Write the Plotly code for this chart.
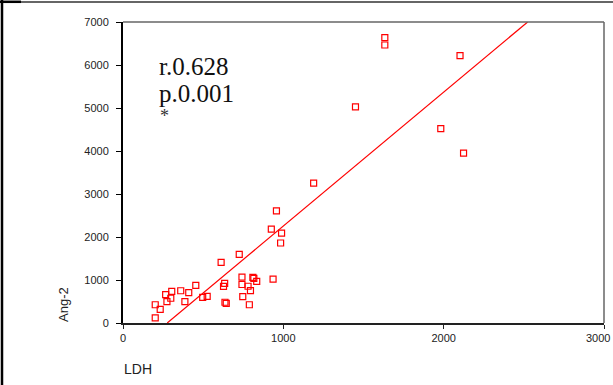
import plotly.graph_objects as go

# Data
ldh = [1633, 1633, 2102, 1450, 1982, 2124, 1189, 957, 925, 989, 983, 725,
       612, 936, 742, 810, 816, 834, 742, 780, 795, 747, 788, 634, 627,
       636, 644, 454, 360, 410, 304, 266, 298, 274, 386, 497, 525, 201,
       232, 201]
ang2 = [6636, 6465, 6218, 5025, 4522, 3949, 3252, 2609, 2184, 2091, 1860, 1595,
        1410, 1020, 1065, 1062, 1040, 970, 895, 855, 755, 615, 425, 920, 850,
        482, 455, 875, 750, 705, 735, 660, 575, 495, 495, 595, 620, 425,
        315, 118]

fit_slope = 3.114
fit_intercept = -859.0
y_range = [0, 7000]
x_range = [0, 3000]
x_ticks = [0, 1000, 2000, 3000]
x_tick_labels = ["0", "1000", "2000", "3000"]
y_ticks = [0, 1000, 2000, 3000, 4000, 5000, 6000, 7000]
stat_lines = ["r.0.628", "p.0.001"]

W, H = 613, 385
L, R, T, B = 123, 9, 22, 62
pw, ph = W - L - R, H - T - B

def px(xp):
    return (xp - L) / pw

def py(yp):
    return 1 - (yp - T) / ph

fit_x = [(y - fit_intercept) / fit_slope for y in y_range]
fit_y = [fit_slope * x + fit_intercept for x in fit_x]

fig = go.Figure()
fig.add_trace(go.Scatter(x=fit_x, y=fit_y, mode="lines",
                         line=dict(color="#ff0000", width=1.2),
                         hoverinfo="skip", showlegend=False))
fig.add_trace(go.Scatter(x=ldh, y=ang2, mode="markers",
                         marker=dict(symbol="square-open", size=6,
                                     color="#ff0000", line=dict(width=1.2, color="#ff0000")),
                         showlegend=False))

# last x tick label drawn separately (right-aligned) so it stays inside the page
shown_x_labels = x_tick_labels[:-1] + [""]

fig.update_xaxes(range=x_range, tickvals=x_ticks, ticktext=shown_x_labels,
                 showgrid=False, zeroline=False,
                 showline=True, linecolor="#222222", linewidth=2, automargin=False,
                 ticks="outside", ticklen=4, tickcolor="#222222", tickwidth=1,
                 tickfont=dict(family="Liberation Sans, Arial", size=11, color="#222222"))
fig.update_yaxes(range=y_range, tickvals=y_ticks, showgrid=False, zeroline=False,
                 showline=True, linecolor="#000000", linewidth=2, automargin=False,
                 ticks="outside", ticklen=5, tickcolor="#000000", tickwidth=1,
                 ticklabelstandoff=5,
                 tickfont=dict(family="Liberation Sans, Arial", size=11, color="#222222"))

shapes = [
    # top and right frame of plot area (gray)
    dict(type="line", xref="paper", yref="paper", x0=0, x1=1, y0=1, y1=1,
         line=dict(color="#666666", width=1.5)),
    dict(type="line", xref="paper", yref="paper", x0=1, x1=1, y0=0, y1=1,
         line=dict(color="#666666", width=1.5)),
    # outer border pieces
    dict(type="line", xref="paper", yref="paper", x0=px(0), x1=px(21), y0=py(1.8), y1=py(1.8),
         line=dict(color="#000000", width=2.5)),
    dict(type="line", xref="paper", yref="paper", x0=px(21), x1=px(W), y0=py(2), y1=py(2),
         line=dict(color="#333333", width=1.6)),
    dict(type="line", xref="paper", yref="paper", x0=px(2), x1=px(2), y0=py(0), y1=py(H),
         line=dict(color="#000000", width=2.5)),
]

annotations = [
    dict(xref="paper", yref="paper", x=px(157), y=py(66), xanchor="left", yanchor="middle",
         text=stat_lines[0], showarrow=False,
         font=dict(family="Liberation Serif, Times New Roman", size=25, color="#111111")),
    dict(xref="paper", yref="paper", x=px(157), y=py(93), xanchor="left", yanchor="middle",
         text=stat_lines[1], showarrow=False,
         font=dict(family="Liberation Serif, Times New Roman", size=25, color="#111111")),
    dict(xref="paper", yref="paper", x=px(164), y=py(116), xanchor="center", yanchor="middle",
         text="*", showarrow=False,
         font=dict(family="Liberation Serif, Times New Roman", size=18, color="#333333")),
    dict(xref="paper", yref="paper", x=px(63), y=py(305), xanchor="center", yanchor="middle",
         text="Ang-2", textangle=-90, showarrow=False,
         font=dict(family="Liberation Sans, Arial", size=13, color="#222222")),
    dict(xref="paper", yref="paper", x=px(122), y=py(369), xanchor="left", yanchor="middle",
         text="LDH", showarrow=False,
         font=dict(family="Liberation Sans, Arial", size=14, color="#222222")),
    dict(xref="x", yref="paper", x=x_ticks[-1], xshift=8, y=py(338), xanchor="right",
         yanchor="middle", text=x_tick_labels[-1], showarrow=False,
         font=dict(family="Liberation Sans, Arial", size=11, color="#222222")),
]

fig.update_layout(width=W, height=H, margin=dict(l=L, r=R, t=T, b=B),
                  paper_bgcolor="white", plot_bgcolor="white",
                  shapes=shapes, annotations=annotations, showlegend=False)

fig.write_html("out.html")
